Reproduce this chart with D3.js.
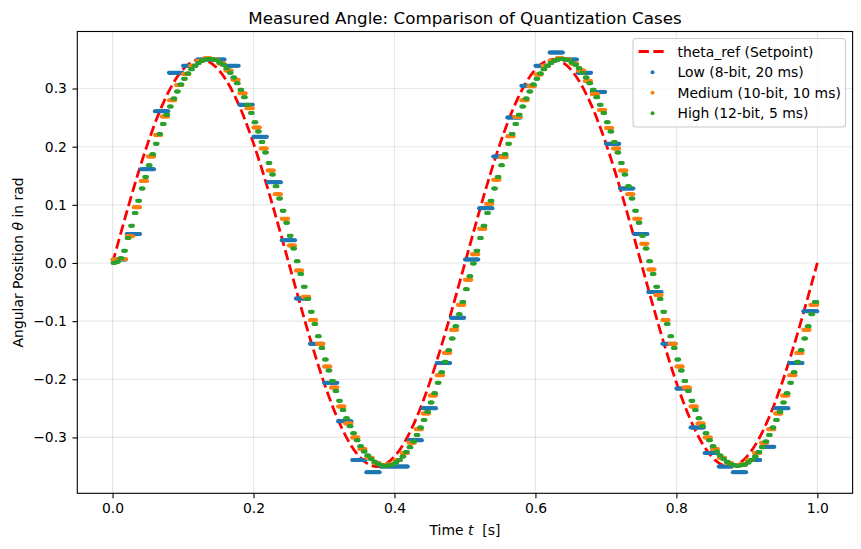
<!DOCTYPE html>
<html><head><meta charset="utf-8">
<script src="https://cdn.jsdelivr.net/npm/d3@7"></script>
<style>body{margin:0;background:#fff} svg{display:block} text{font-family:"DejaVu Sans",sans-serif;fill:#000}</style>
</head><body><svg id="c" width="861" height="549"></svg>
<script>
// ---------- data ----------
const refTimes = [0,0.025,0.05,0.075,0.1,0.125,0.15,0.175,0.2,0.225,0.25,0.275,0.3,0.325,0.35,0.375,0.4,0.425,0.45,0.475,0.5,
  0.525,0.55,0.575,0.6,0.625,0.65,0.675,0.7,0.725,0.75,0.775,0.8,0.825,0.85,0.875,0.9,0.925,0.95,0.975,1.0];
const refValues = [0,0.1082,0.2057,0.2832,0.3329,0.35,0.3329,0.2832,0.2057,0.1082,0,-0.1082,-0.2057,-0.2832,-0.3329,-0.35,-0.3329,-0.2832,-0.2057,-0.1082,0,
  0.1082,0.2057,0.2832,0.3329,0.35,0.3329,0.2832,0.2057,0.1082,0,-0.1082,-0.2057,-0.2832,-0.3329,-0.35,-0.3329,-0.2832,-0.2057,-0.1082,0];

// Low: 8-bit, sample held for 20 ms
const lowValues = [0.006,0.050,0.161,0.261,0.327,0.339,0.350,0.350,0.339,0.272,
  0.217,0.139,0.039,-0.061,-0.139,-0.206,-0.272,-0.339,-0.360,-0.350,
  -0.350,-0.305,-0.250,-0.172,-0.094,0.006,0.094,0.183,0.250,0.305,
  0.339,0.362,0.350,0.327,0.294,0.205,0.128,0.050,-0.050,-0.139,
  -0.216,-0.283,-0.327,-0.350,-0.360,-0.339,-0.316,-0.250,-0.172,-0.083];

// Medium: 10-bit, sample held for 10 ms
const mediumValues = [0.006,0.007,0.046,0.096,0.141,0.183,0.220,0.252,0.280,0.306,
  0.325,0.339,0.348,0.352,0.350,0.343,0.331,0.315,0.292,0.266,
  0.233,0.197,0.159,0.118,0.076,0.030,-0.013,-0.058,-0.098,-0.139,
  -0.178,-0.214,-0.247,-0.276,-0.300,-0.320,-0.335,-0.344,-0.348,-0.346,
  -0.339,-0.327,-0.309,-0.286,-0.259,-0.228,-0.193,-0.155,-0.115,-0.072,
  -0.029,0.015,0.059,0.102,0.143,0.182,0.218,0.251,0.280,0.304,
  0.324,0.339,0.348,0.352,0.350,0.343,0.331,0.313,0.290,0.263,
  0.232,0.197,0.159,0.118,0.076,0.033,-0.011,-0.055,-0.098,-0.139,
  -0.178,-0.214,-0.247,-0.276,-0.300,-0.320,-0.335,-0.344,-0.348,-0.346,
  -0.339,-0.327,-0.309,-0.286,-0.259,-0.228,-0.193,-0.155,-0.115,-0.072];

// High: 12-bit, sample held for 5 ms
const highValues = [0.000,0.002,0.008,0.021,0.043,0.064,0.086,0.107,0.128,0.148,
  0.168,0.187,0.205,0.222,0.239,0.255,0.269,0.283,0.295,0.307,
  0.317,0.326,0.333,0.339,0.344,0.348,0.350,0.351,0.350,0.349,
  0.345,0.341,0.335,0.327,0.319,0.309,0.298,0.285,0.272,0.258,
  0.242,0.226,0.208,0.190,0.172,0.152,0.132,0.111,0.090,0.069,
  0.047,0.025,0.003,-0.019,-0.041,-0.062,-0.084,-0.105,-0.126,-0.146,
  -0.166,-0.185,-0.203,-0.220,-0.237,-0.253,-0.267,-0.281,-0.293,-0.305,
  -0.315,-0.324,-0.331,-0.337,-0.342,-0.346,-0.348,-0.349,-0.348,-0.347,
  -0.343,-0.339,-0.333,-0.325,-0.317,-0.307,-0.296,-0.283,-0.270,-0.256,
  -0.240,-0.224,-0.206,-0.188,-0.170,-0.150,-0.130,-0.109,-0.088,-0.067,
  -0.045,-0.023,-0.001,0.021,0.043,0.064,0.086,0.107,0.128,0.148,
  0.168,0.187,0.205,0.222,0.239,0.255,0.269,0.283,0.295,0.307,
  0.317,0.326,0.333,0.339,0.344,0.348,0.350,0.351,0.350,0.349,
  0.345,0.341,0.335,0.327,0.319,0.309,0.298,0.285,0.272,0.258,
  0.242,0.226,0.208,0.190,0.172,0.152,0.132,0.111,0.090,0.069,
  0.047,0.025,0.003,-0.019,-0.041,-0.062,-0.084,-0.105,-0.126,-0.146,
  -0.166,-0.185,-0.203,-0.220,-0.237,-0.253,-0.267,-0.281,-0.293,-0.305,
  -0.315,-0.324,-0.331,-0.337,-0.342,-0.346,-0.348,-0.349,-0.348,-0.347,
  -0.343,-0.339,-0.333,-0.325,-0.317,-0.307,-0.296,-0.283,-0.270,-0.256,
  -0.240,-0.224,-0.206,-0.188,-0.170,-0.150,-0.130,-0.109,-0.088,-0.067];

const seriesNames = ["Low (8-bit, 20 ms)","Medium (10-bit, 10 ms)","High (12-bit, 5 ms)"];
const refName = "theta_ref (Setpoint)";
const holdTimes = [0.02,0.01,0.005];
const xTicks = [0.0,0.2,0.4,0.6,0.8,1.0];
const yTicks = [-0.3,-0.2,-0.1,0.0,0.1,0.2,0.3];
const colors = ["#1f77b4","#ff7f0e","#2ca02c"];

// ---------- layout ----------
const svg = d3.select("#c");
const L = 77.3, R = 852.6, T = 31.5, B = 493.3;
const FS = 13.9;

// sample-and-hold expansion on a 1 ms grid
const grid = d3.range(0, 1001).map(i => i / 1000);
function held(vals, hold) {
  return grid.map(t => ({t, v: vals[Math.min(Math.floor(t / hold + 1e-9), vals.length - 1)]}));
}
const series = [lowValues, mediumValues, highValues].map((v, i) => held(v, holdTimes[i]));

const allV = refValues.concat(lowValues, mediumValues, highValues);
const [vmin, vmax] = d3.extent(allV);
const pad = (vmax - vmin) * 0.05;
const x = d3.scaleLinear().domain([-0.05, 1.05]).range([L, R]);
const y = d3.scaleLinear().domain([vmin - pad, vmax + pad]).range([B, T]);

// grid
const g = svg.append("g");
g.selectAll("line.gx").data(xTicks).join("line")
  .attr("x1", d => x(d)).attr("x2", d => x(d)).attr("y1", T).attr("y2", B)
  .attr("stroke", "#b0b0b0").attr("stroke-opacity", 0.3).attr("stroke-width", 1.1);
g.selectAll("line.gy").data(yTicks).join("line")
  .attr("y1", d => y(d)).attr("y2", d => y(d)).attr("x1", L).attr("x2", R)
  .attr("stroke", "#b0b0b0").attr("stroke-opacity", 0.3).attr("stroke-width", 1.1);

// clip
svg.append("clipPath").attr("id", "clp").append("rect").attr("x", L).attr("y", T).attr("width", R - L).attr("height", B - T);
const plot = svg.append("g").attr("clip-path", "url(#clp)");

// reference line
const refData = refTimes.map((t, i) => ({t, v: refValues[i]}));
plot.append("path").datum(refData)
  .attr("d", d3.line().x(d => x(d.t)).y(d => y(d.v)).curve(d3.curveNatural))
  .attr("fill", "none").attr("stroke", "#ff0000").attr("stroke-width", 2.78)
  .attr("stroke-dasharray", "10.3,4.45");

// measured points
series.forEach((s, i) => {
  plot.append("g").selectAll("circle").data(s).join("circle")
    .attr("cx", d => x(d.t)).attr("cy", d => y(d.v)).attr("r", 2)
    .attr("fill", colors[i]);
});

// axes
const ax = svg.append("g").attr("transform", `translate(0,${B})`)
  .call(d3.axisBottom(x).tickValues(xTicks).tickFormat(d3.format(".1f")).tickSizeOuter(0).tickSize(4.86).tickPadding(4.9));
const ay = svg.append("g").attr("transform", `translate(${L},0)`)
  .call(d3.axisLeft(y).tickValues(yTicks).tickFormat(d3.format(".1f")).tickSizeOuter(0).tickSize(4.86).tickPadding(5.5));
[ax, ay].forEach(a => {
  a.select(".domain").remove();
  a.selectAll("line").attr("stroke", "#000").attr("stroke-width", 1.1);
  a.selectAll("text").attr("font-size", FS + "px").attr("font-family", "DejaVu Sans");
});
svg.append("rect").attr("x", L).attr("y", T).attr("width", R - L).attr("height", B - T)
  .attr("fill", "none").attr("stroke", "#000").attr("stroke-width", 1.1);

// titles
svg.append("text").attr("x", (L + R) / 2).attr("y", 24).attr("text-anchor", "middle")
  .attr("font-size", "16.7px").text("Measured Angle: Comparison of Quantization Cases");
const xl = svg.append("text").attr("x", (L + R) / 2).attr("y", 535).attr("text-anchor", "middle").attr("font-size", FS + "px");
xl.append("tspan").text("Time ");
xl.append("tspan").attr("font-style", "italic").text("t");
xl.append("tspan").text("\u00a0 [s]");
const yl = svg.append("text").attr("transform", `translate(23,${(T + B) / 2}) rotate(-90)`)
  .attr("text-anchor", "middle").attr("font-size", FS + "px");
yl.append("tspan").text("Angular Position ");
yl.append("tspan").attr("font-style", "italic").text("θ");
yl.append("tspan").text(" in rad");

// legend
const lg = svg.append("g");
lg.append("rect").attr("x", 633).attr("y", 38.5).attr("width", 212.5).attr("height", 88.5)
  .attr("rx", 3).attr("fill", "#fff").attr("fill-opacity", 0.8).attr("stroke", "#cccccc").attr("stroke-width", 1.1);
const rowsY = [51.5, 72.3, 92.8, 113.2];
lg.append("line").attr("x1", 638.6).attr("x2", 666.4).attr("y1", rowsY[0]).attr("y2", rowsY[0])
  .attr("stroke", "#ff0000").attr("stroke-width", 2.78).attr("stroke-dasharray", "10.3,4.45");
lg.append("text").attr("x", 677.5).attr("y", rowsY[0] + 5).attr("font-size", FS + "px").text(refName);
seriesNames.forEach((n, i) => {
  lg.append("circle").attr("cx", 652.5).attr("cy", rowsY[i + 1]).attr("r", 2).attr("fill", colors[i]);
  lg.append("text").attr("x", 677.5).attr("y", rowsY[i + 1] + 5).attr("font-size", FS + "px").text(n);
});
</script></body></html>
